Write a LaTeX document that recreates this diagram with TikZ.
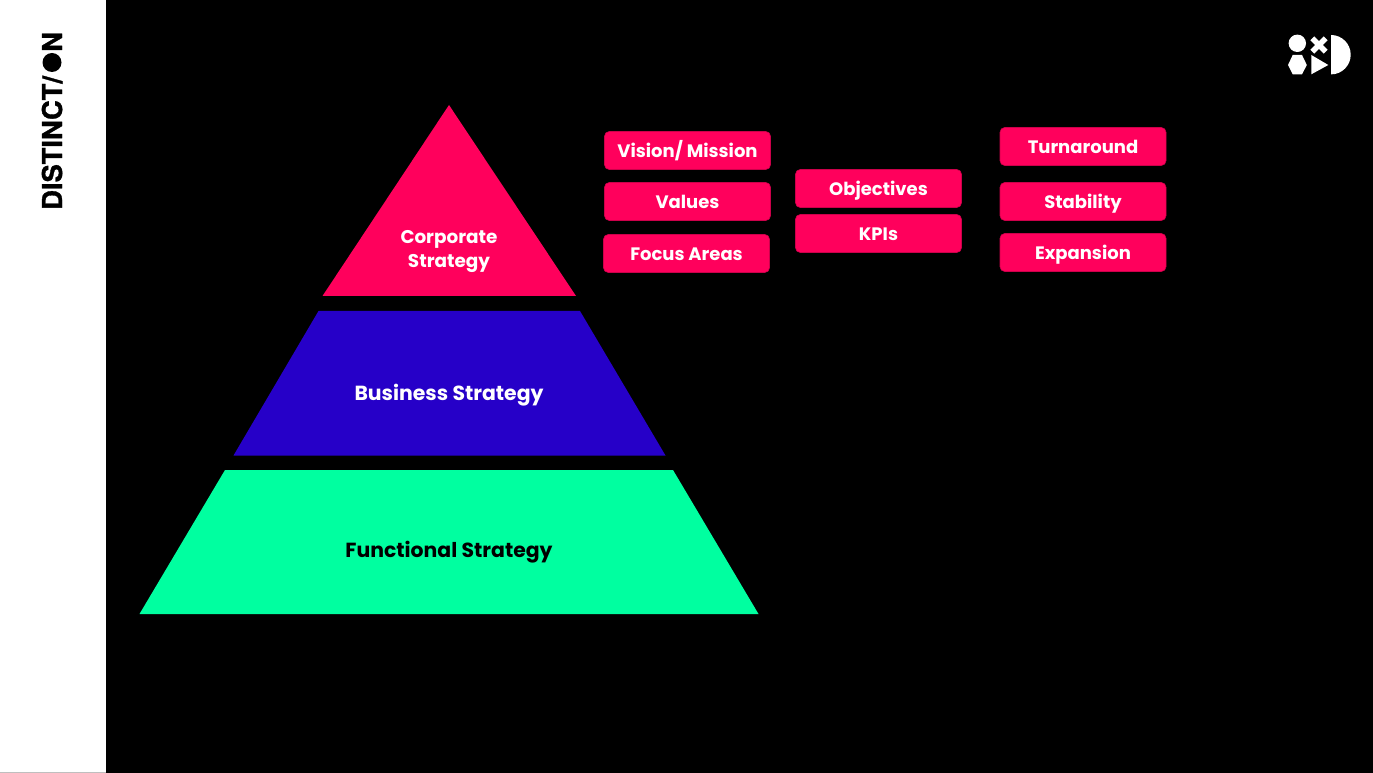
\documentclass[tikz,border=0pt]{standalone}
\usepackage{fontspec}
\setmainfont{Poppins}
\newfontfamily\logofont[BoldFeatures={FakeBold=1.2}]{TeX Gyre Heros}
\definecolor{hotpink}{RGB}{255,0,92}
\definecolor{deepblue}{RGB}{38,0,200}
\definecolor{mintgreen}{RGB}{0,255,160}
\tikzset{
  tagbox/.style={fill=hotpink,draw=hotpink!80!black,line width=0.4pt,rounded corners=3.5pt,text=white,font=\fontsize{13.5}{16}\selectfont\bfseries,minimum width=124.5pt,minimum height=28.5pt,inner sep=0pt,anchor=center,text height=11.8pt,text depth=2pt},
  tierlabel/.style={font=\fontsize{15.3}{18}\selectfont\bfseries,align=center,inner sep=0pt},
  logotext/.style={font=\fontsize{20.5}{24}\selectfont\logofont\bfseries,text=black,inner sep=0pt,rotate=90,anchor=base west}
}
\begin{document}
\begin{tikzpicture}[x=0.75pt,y=-0.75pt]
\useasboundingbox (0,0) rectangle (1373,773);
\fill[black] (0,0) rectangle (1373,773);
\fill[white] (0,0) rectangle (106,772);
\fill[black!25] (0,772) rectangle (106,773);
% pyramid
\fill[hotpink] (449,105) -- (576,296) -- (322.5,296) -- cycle;
\fill[deepblue] (318.5,311) -- (580,311) -- (665.5,455.5) -- (233.5,455.5) -- cycle;
\fill[mintgreen] (225,470) -- (673,470) -- (758.5,614) -- (139.5,614) -- cycle;
\node[tierlabel,text=white,font=\fontsize{13.8}{18}\selectfont\bfseries] (corp) at (449,251) {Corporate\\Strategy};
\node[tierlabel,text=white] (bus) at (449,395.5) {Business Strategy};
\node[tierlabel,text=black] (func) at (449,552.5) {Functional Strategy};
% boxes
\node[tagbox] (vision) at (687.5,150.5) {Vision/ Mission};
\node[tagbox] (values) at (687.5,201.5) {Values};
\node[tagbox] (focus) at (686.5,253.5) {Focus Areas};
\node[tagbox] (obj) at (878.5,188.5) {Objectives};
\node[tagbox] (kpi) at (878.5,233.5) {KPIs};
\node[tagbox] (turn) at (1083,146.5) {Turnaround};
\node[tagbox] (stab) at (1083,201.5) {Stability};
\node[tagbox] (exp) at (1083,252.5) {Expansion};
% wordmark
\node[logotext] (dist) at (62,210) {DISTINCT/};
\fill[black] (52,62.5) circle (9.5);
\node[logotext] (n) at (62,52) {N};
% logo
\fill[white] (1297.3,43.3) circle (8.7);
\fill[white,rotate around={45:(1319,45)}] (1309.5,42.2) rectangle (1328.5,47.8);
\fill[white,rotate around={-45:(1319,45)}] (1309.5,42.2) rectangle (1328.5,47.8);
\fill[white] (1288,65) -- (1292.7,55) -- (1302,55) -- (1306.8,65) -- (1302,74.3) -- (1292.7,74.3) -- cycle;
\fill[white] (1311.3,55) -- (1328.3,65) -- (1311.3,74.3) -- cycle;
\fill[white] (1331,35) arc[start angle=90,end angle=-90,x radius=19.7,y radius=-19.7] -- cycle;
\end{tikzpicture}
\end{document}
